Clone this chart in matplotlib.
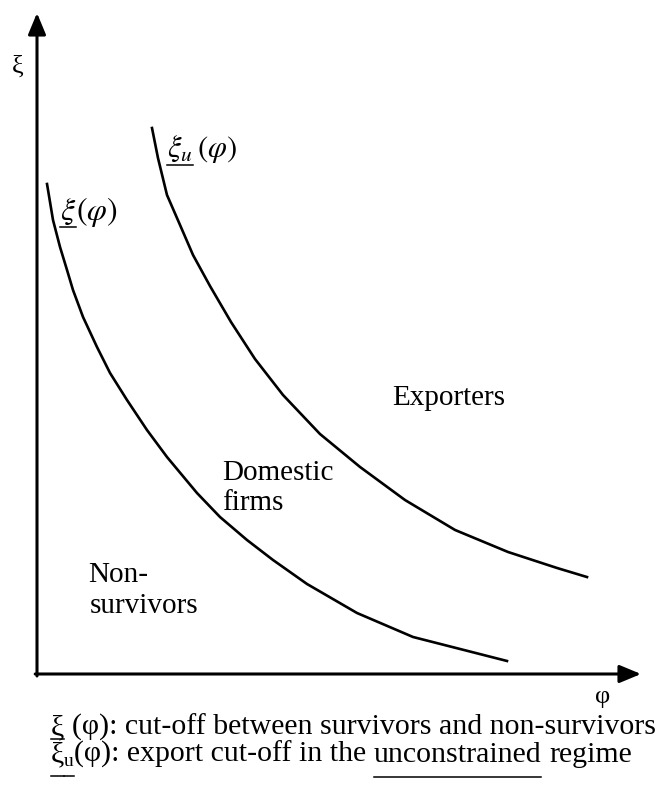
import matplotlib.pyplot as plt
from matplotlib.lines import Line2D

W, H = 665, 785
DPI = 100

# cut-off between survivors and non-survivors (phi, xi), in % of axis length
phi_surv = [1.66, 2.65, 3.81, 4.97, 5.96, 7.62, 9.93, 12.09, 14.90, 18.21, 21.52, 26.49,
            30.30, 34.77, 39.07, 44.70, 52.98, 62.25, 77.81]
xi_surv = [74.13, 68.68, 64.60, 61.12, 58.09, 54.01, 49.47, 45.54, 41.45, 36.91, 32.83, 27.38,
           23.75, 20.27, 17.25, 13.62, 9.23, 5.60, 1.97]
# export cut-off in the unconstrained regime
phi_exp = [19.04, 20.03, 21.52, 23.68, 25.83, 28.64, 32.12, 36.09, 40.73, 46.85, 53.48,
           60.93, 69.21, 77.98, 86.09, 91.06]
xi_exp = [82.60, 78.06, 72.47, 67.93, 63.39, 58.70, 53.25, 47.66, 42.21, 36.31, 31.32,
          26.32, 21.79, 18.46, 16.04, 14.67]

region_names = ["Exporters", "Domestic", "firms", "Non-", "survivors"]
note_1 = "(φ): cut-off between survivors and non-survivors"
note_2 = ["(φ): export cut-off in the", "unconstrained", "regime"]

plt.rcParams['font.family'] = ['Liberation Serif', 'DejaVu Serif']
plt.rcParams['mathtext.fontset'] = 'stix'

fig = plt.figure(figsize=(W / DPI, H / DPI), dpi=DPI)
ax = fig.add_axes([37 / W, (H - 674) / H, 604 / W, 661 / H])
ax.set_xlim(0, 100)
ax.set_ylim(0, 100)
ax.axis('off')

ax.plot(phi_surv, xi_surv, color='black', lw=1.9, solid_joinstyle='round', clip_on=False)
ax.plot(phi_exp, xi_exp, color='black', lw=1.9, solid_joinstyle='round', clip_on=False)

#axes with arrow heads
ap = dict(arrowstyle='-|>,head_length=0.65,head_width=0.27', mutation_scale=20,
          lw=2.2, color='black', shrinkA=0, shrinkB=0)
ax.annotate('', xy=(100, 0), xytext=(-0.3, 0), arrowprops=ap, annotation_clip=False)
ax.annotate('', xy=(0, 100), xytext=(0, -0.3), arrowprops=ap, annotation_clip=False)

renderer = fig.canvas.get_renderer()


def run(x, y, pieces):
    # pieces: (text, size, dy, underline y) in pixels, top-left origin
    for s, size, dy, ul in pieces:
        if s == ' ':
            x += 0.25 * size * DPI / 72
            continue
        t = fig.text(x / W, 1 - (y + dy) / H, s, fontsize=size, ha='left', va='baseline')
        bb = t.get_window_extent(renderer)
        if ul is not None:
            fig.add_artist(Line2D([bb.x0 / W, bb.x1 / W], [1 - ul / H] * 2, color='black', lw=1.1))
        x = bb.x1


#curve labels
run(60, 220, [(r'$\xi$', 23, 0, 227), (r'$(\varphi)$', 23, 0, None)])
run(167, 157, [(r'$\xi_u$', 22, 0, 165), (' ', 12, 0, None), (r'$(\varphi)$', 22, 0, None)])

#regions
pos = [(392, 405), (222, 480), (222, 510), (88, 582), (90, 613)]
for name, (x, y) in zip(region_names, pos):
    fig.text(x / W, 1 - y / H, name, fontsize=21, ha='left', va='baseline')

#axis names
fig.text(12 / W, 1 - 73 / H, 'ξ', fontsize=19, ha='left', va='baseline')
fig.text(603 / W, 1 - 703 / H, 'φ', fontsize=19, ha='center', va='baseline')

#notes below
run(51, 735, [('ξ', 21.5, 0, 739), (' ', 21.5, 0, None), (note_1, 21.5, 0, None)])
run(51, 762, [('ξ', 21.5, 0, 776), ('u', 14, 4, 776), (note_2[0], 21.5, 0, None), (' ', 21.5, 0, None),
              (note_2[1], 21.5, 0, 777), (' ', 23, 0, None), (note_2[2], 21.5, 0, None)])

fig.savefig('out.png', dpi=DPI)
